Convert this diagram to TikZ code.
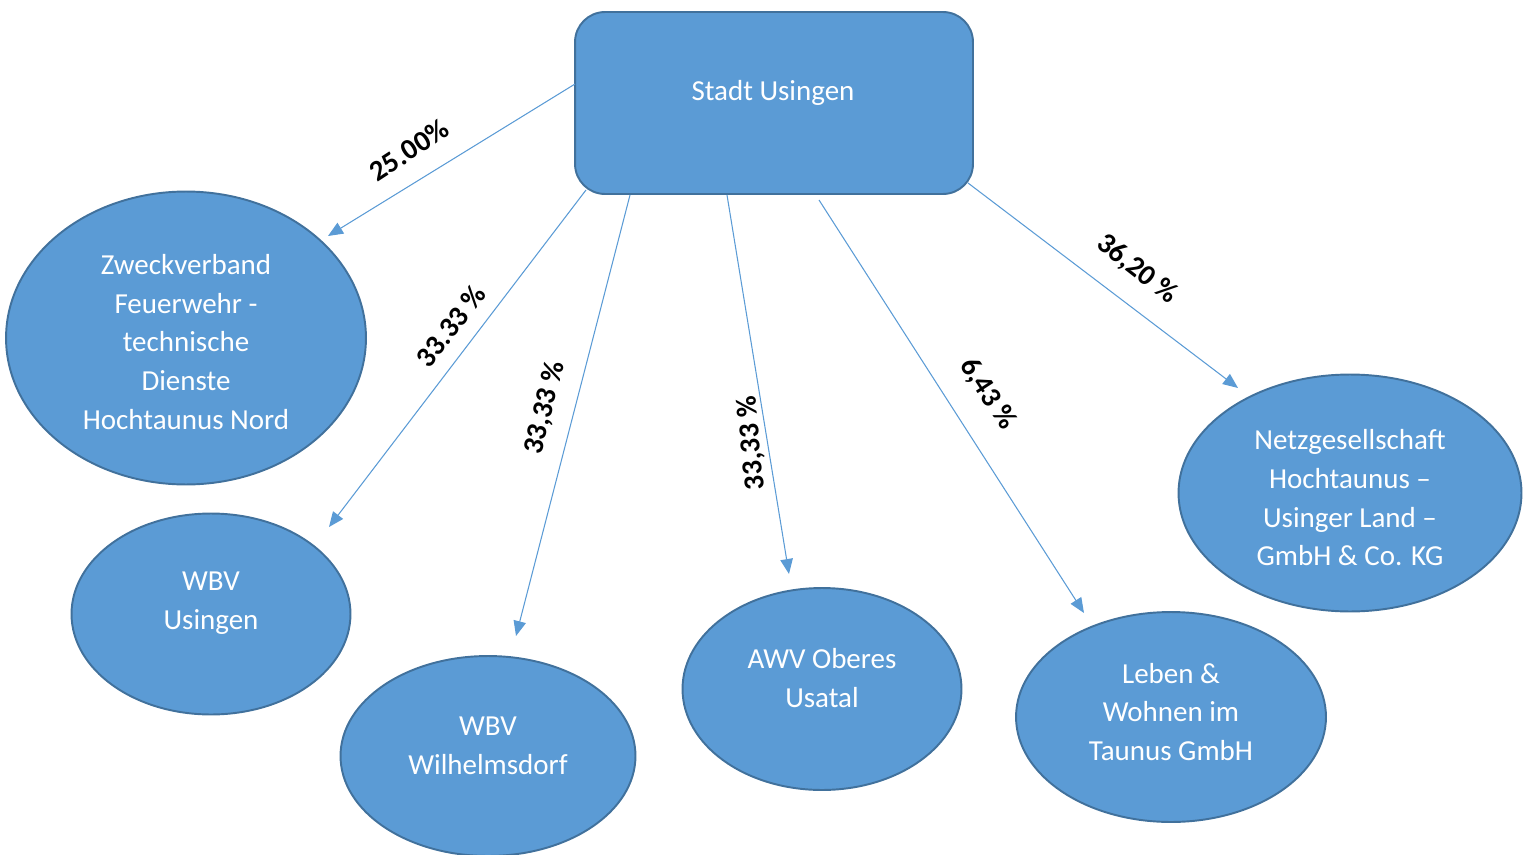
\documentclass[tikz,border=0pt]{standalone}
\usepackage{fontspec}
\setmainfont{Carlito}
\usetikzlibrary{shapes.geometric,arrows.meta}
\definecolor{boxfill}{HTML}{5B9BD5}
\definecolor{boxline}{HTML}{41719C}
\definecolor{conn}{HTML}{5B9BD5}
\tikzset{
  orgbox/.style={draw=boxline, line width=1.1pt, fill=boxfill, rounded corners=0.6cm, inner sep=0pt},
  orgell/.style={ellipse, draw=boxline, line width=1.1pt, fill=boxfill, inner sep=0pt},
  orgtext/.style={text=white, align=center, font=\fontsize{16.5}{22}\selectfont, inner sep=0pt},
  conarrow/.style={draw=conn, line width=0.6pt, -{Triangle[length=0.3cm,width=0.25cm]}},
  pct/.style={font=\fontsize{16.5}{20}\selectfont\bfseries, text=black, inner sep=1pt}
}
\begin{document}
\begin{tikzpicture}[x=0.02cm,y=-0.02cm]
\useasboundingbox (0,0) rectangle (1531,855);
% main box
\node[orgbox, minimum width=7.96cm, minimum height=3.64cm] (su) at (774,103) {};
\node[orgtext] (sut) at (773,93) {Stadt Usingen};
% ellipses
\node[orgell, minimum width=7.2cm, minimum height=5.86cm] (zv) at (186,338) {};
\node[orgtext] (zvt) at (186,342) {Zweckverband\\Feuerwehr -\\technische\\Dienste\\Hochtaunus Nord};
\node[orgell, minimum width=5.58cm, minimum height=4.02cm] (wu) at (211,614) {};
\node[orgtext] (wut) at (211,603) {WBV\\Usingen};
\node[orgell, minimum width=5.9cm, minimum height=4.0cm] (ww) at (488,756) {};
\node[orgtext] (wwt) at (488,746) {WBV\\Wilhelmsdorf};
\node[orgell, minimum width=5.58cm, minimum height=4.04cm] (awv) at (822,689) {};
\node[orgtext] (awvt) at (822,678) {AWV Oberes\\Usatal};
\node[orgell, minimum width=6.2cm, minimum height=4.2cm] (lw) at (1171,717) {};
\node[orgtext] (lwt) at (1171,712) {Leben \&\\Wohnen im\\Taunus GmbH};
\node[orgell, minimum width=6.86cm, minimum height=4.74cm] (nh) at (1350,493) {};
\node[orgtext] (nht) at (1350,498) {Netzgesellschaft\\Hochtaunus –\\Usinger Land –\\GmbH \& Co. KG};
% connector end points
\coordinate (s1) at (575,84);   \coordinate (e1) at (328,236);
\coordinate (s2) at (586,190);  \coordinate (e2) at (329,527);
\coordinate (s3) at (630,195);  \coordinate (e3) at (516,636);
\coordinate (s4) at (727,195);  \coordinate (e4) at (789,574);
\coordinate (s5) at (819,200);  \coordinate (e5) at (1084,613);
\coordinate (s6) at (968,183);  \coordinate (e6) at (1238,388);
\draw[conarrow] (s1) -- (e1);
\draw[conarrow] (s2) -- (e2);
\draw[conarrow] (s3) -- (e3);
\draw[conarrow] (s4) -- (e4);
\draw[conarrow] (s5) -- (e5);
\draw[conarrow] (s6) -- (e6);
% labels
\node[pct, rotate=33] (p1) at (409,150) {25.00\%};
\node[pct, rotate=52] (p2) at (451,326) {33.33 \%};
\node[pct, rotate=76] (p3) at (545,408) {33,33 \%};
\node[pct, rotate=95] (p4) at (752,443) {33,33 \%};
\node[pct, rotate=-57] (p5) at (988,394) {6,43 \%};
\node[pct, rotate=-38] (p6) at (1137,269) {36,20 \%};
\end{tikzpicture}
\end{document}
